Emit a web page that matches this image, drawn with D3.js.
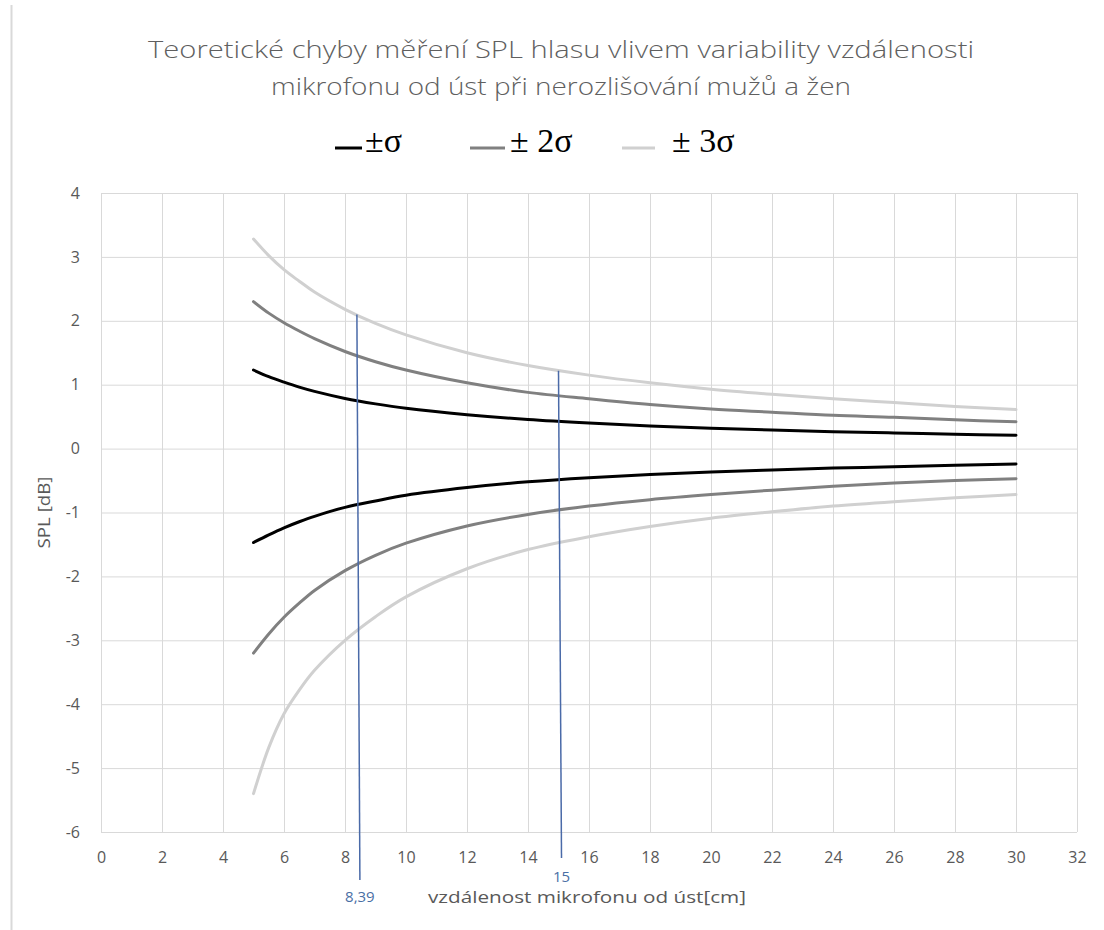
<!DOCTYPE html>
<html>
<head>
<meta charset="utf-8">
<script src="https://cdn.jsdelivr.net/npm/d3@7"></script>
<style>
  body { margin: 0; background: #fff; }
  svg text { font-family: 'Open Sans', 'Liberation Sans', sans-serif; }
</style>
</head>
<body>
<svg id="chart" width="1104" height="930"></svg>
<script>
// distances [cm] where the curves were read
const distances = [5, 5.5, 6, 6.5, 7, 8, 9, 10, 12, 14, 16, 18, 20, 22, 24, 26, 28, 30];

const sigma1Upper = [1.23, 1.125, 1.04, 0.962, 0.895, 0.785, 0.7, 0.63, 0.53, 0.455, 0.4, 0.355, 0.32, 0.29, 0.265, 0.245, 0.225, 0.21];
const sigma1Lower = [-1.47, -1.35, -1.24, -1.145, -1.06, -0.92, -0.82, -0.73, -0.61, -0.52, -0.455, -0.405, -0.365, -0.335, -0.305, -0.285, -0.26, -0.24];
const sigma2Upper = [2.3, 2.12, 1.97, 1.84, 1.72, 1.52, 1.36, 1.23, 1.03, 0.88, 0.78, 0.69, 0.62, 0.57, 0.52, 0.49, 0.45, 0.42];
const sigma2Lower = [-3.2, -2.9, -2.64, -2.42, -2.22, -1.91, -1.67, -1.48, -1.21, -1.03, -0.9, -0.8, -0.72, -0.65, -0.59, -0.54, -0.5, -0.47];
const sigma3Upper = [3.28, 3.02, 2.8, 2.62, 2.45, 2.18, 1.96, 1.78, 1.5, 1.3, 1.15, 1.03, 0.93, 0.85, 0.78, 0.72, 0.66, 0.61];
const sigma3Lower = [-5.4, -4.68, -4.15, -3.78, -3.47, -3.0, -2.63, -2.32, -1.88, -1.58, -1.38, -1.22, -1.09, -0.99, -0.9, -0.83, -0.77, -0.72];

const legendLabels = ['\u00b1\u03c3', '\u00b1 2\u03c3', '\u00b1 3\u03c3'];
const seriesColors = ['#000000', '#808080', '#d0d0d0'];

const xTicks = d3.range(0, 33, 2);
const yTicks = d3.range(-6, 5, 1);

// marked distances (blue guide lines) and the value where each one starts
const markerX = [8.39, 15];
const markerTop = [2.1, 1.22];
const markerLabels = ['8,39', '15'];

const titleLines = [
  'Teoretické chyby měření SPL hlasu vlivem variability vzdálenosti',
  'mikrofonu od úst při nerozlišování mužů a žen'
];

const margin = { top: 193, right: 27, bottom: 98, left: 101 };
const W = 1104, H = 930;

const svg = d3.select('#chart');

const x = d3.scaleLinear().domain([0, 32]).range([margin.left, W - margin.right]);
const y = d3.scaleLinear().domain([-6, 4]).range([H - margin.bottom, margin.top]);

// outer frame edge on the left
svg.append('line')
  .attr('x1', 11.5).attr('x2', 11.5)
  .attr('y1', 5).attr('y2', H)
  .attr('stroke', '#d9d9d9')
  .attr('stroke-width', 2);

// grid
const grid = svg.append('g').attr('class', 'grid');
grid.selectAll('line.v')
  .data(xTicks)
  .enter().append('line')
  .attr('class', 'v')
  .attr('x1', d => x(d) + 0.5).attr('x2', d => x(d) + 0.5)
  .attr('y1', y(4)).attr('y2', y(-6))
  .attr('stroke', '#d9d9d9');
grid.selectAll('line.h')
  .data(yTicks)
  .enter().append('line')
  .attr('class', 'h')
  .attr('x1', x(0)).attr('x2', x(32))
  .attr('y1', d => y(d) + 0.5).attr('y2', d => y(d) + 0.5)
  .attr('stroke', '#d9d9d9');

// tick labels via d3 axes (plain hyphen for negatives, as in the original)
const xAxis = d3.axisBottom(x).tickValues(xTicks).tickSize(0).tickPadding(20)
  .tickFormat(d => String(d));
const yAxis = d3.axisLeft(y).tickValues(yTicks).tickSize(0).tickPadding(21)
  .tickFormat(d => String(d));

const gx = svg.append('g')
  .attr('transform', `translate(0,${y(-6)})`)
  .call(xAxis);
const gy = svg.append('g')
  .attr('transform', `translate(${x(0)},0)`)
  .call(yAxis);

[gx, gy].forEach(g => {
  g.select('.domain').remove();
  g.selectAll('text')
    .attr('fill', '#595959')
    .style('font-size', '16px')
    .style('font-family', "'Open Sans', sans-serif");
});

// curves
const series = [
  { values: sigma3Upper, color: seriesColors[2] },
  { values: sigma3Lower, color: seriesColors[2] },
  { values: sigma2Upper, color: seriesColors[1] },
  { values: sigma2Lower, color: seriesColors[1] },
  { values: sigma1Upper, color: seriesColors[0] },
  { values: sigma1Lower, color: seriesColors[0] }
];

const line = d3.line()
  .x(d => x(d[0]))
  .y(d => y(d[1]))
  .curve(d3.curveCatmullRom.alpha(0.5));

svg.append('g').selectAll('path')
  .data(series)
  .enter().append('path')
  .attr('d', s => line(distances.map((dist, i) => [dist, s.values[i]])))
  .attr('fill', 'none')
  .attr('stroke', s => s.color)
  .attr('stroke-width', 3)
  .attr('stroke-linecap', 'round');

// blue guide lines
const markers = svg.append('g').selectAll('g')
  .data(markerX)
  .enter().append('g');

markers.append('line')
  .attr('x1', d => x(d)).attr('x2', d => x(d) + 3)
  .attr('y1', (d, i) => y(markerTop[i]))
  .attr('y2', (d, i) => i === 0 ? y(-6) + 48 : y(-6) + 26)
  .attr('stroke', '#4a6aa8')
  .attr('stroke-width', 1.5);

markers.append('text')
  .attr('x', d => x(d) + 3)
  .attr('y', (d, i) => i === 0 ? y(-6) + 70 : y(-6) + 50)
  .attr('text-anchor', 'middle')
  .attr('fill', '#4a6fa5')
  .style('font-size', '15px')
  .text((d, i) => markerLabels[i]);

// axis titles
svg.append('text')
  .attr('x', 587)
  .attr('y', y(-6) + 71)
  .attr('text-anchor', 'middle')
  .attr('fill', '#595959')
  .style('font-size', '17px')
  .attr('textLength', 318)
  .attr('lengthAdjust', 'spacingAndGlyphs')
  .text('vzdálenost mikrofonu od úst[cm]');

svg.append('text')
  .attr('transform', `translate(50,${y(-1)}) rotate(-90)`)
  .attr('text-anchor', 'middle')
  .attr('fill', '#595959')
  .style('font-size', '17px')
  .attr('textLength', 72)
  .attr('lengthAdjust', 'spacingAndGlyphs')
  .text('SPL [dB]');

// title
svg.append('g').selectAll('text')
  .data(titleLines)
  .enter().append('text')
  .attr('x', 561)
  .attr('y', (d, i) => 58 + i * 37)
  .attr('text-anchor', 'middle')
  .attr('fill', '#5f5f5f')
  .style('font-size', '23px')
  .style('font-weight', 300)
  .attr('textLength', (d, i) => i === 0 ? 826 : 580)
  .attr('lengthAdjust', 'spacingAndGlyphs')
  .text(d => d);

// legend
const legendDash = [[335, 362], [470, 505], [622, 655]];
const legendTextX = [365, 510, 672];
const legend = svg.append('g').selectAll('g')
  .data(legendLabels)
  .enter().append('g');

legend.append('line')
  .attr('x1', (d, i) => legendDash[i][0]).attr('x2', (d, i) => legendDash[i][1])
  .attr('y1', 148).attr('y2', 148)
  .attr('stroke', (d, i) => seriesColors[i])
  .attr('stroke-width', 3);

legend.append('text')
  .attr('x', (d, i) => legendTextX[i])
  .attr('y', 152)
  .attr('fill', '#000')
  .style('font-family', "'Liberation Serif', 'DejaVu Serif', serif")
  .style('font-size', '34px')
  .text(d => d);
</script>
</body>
</html>
